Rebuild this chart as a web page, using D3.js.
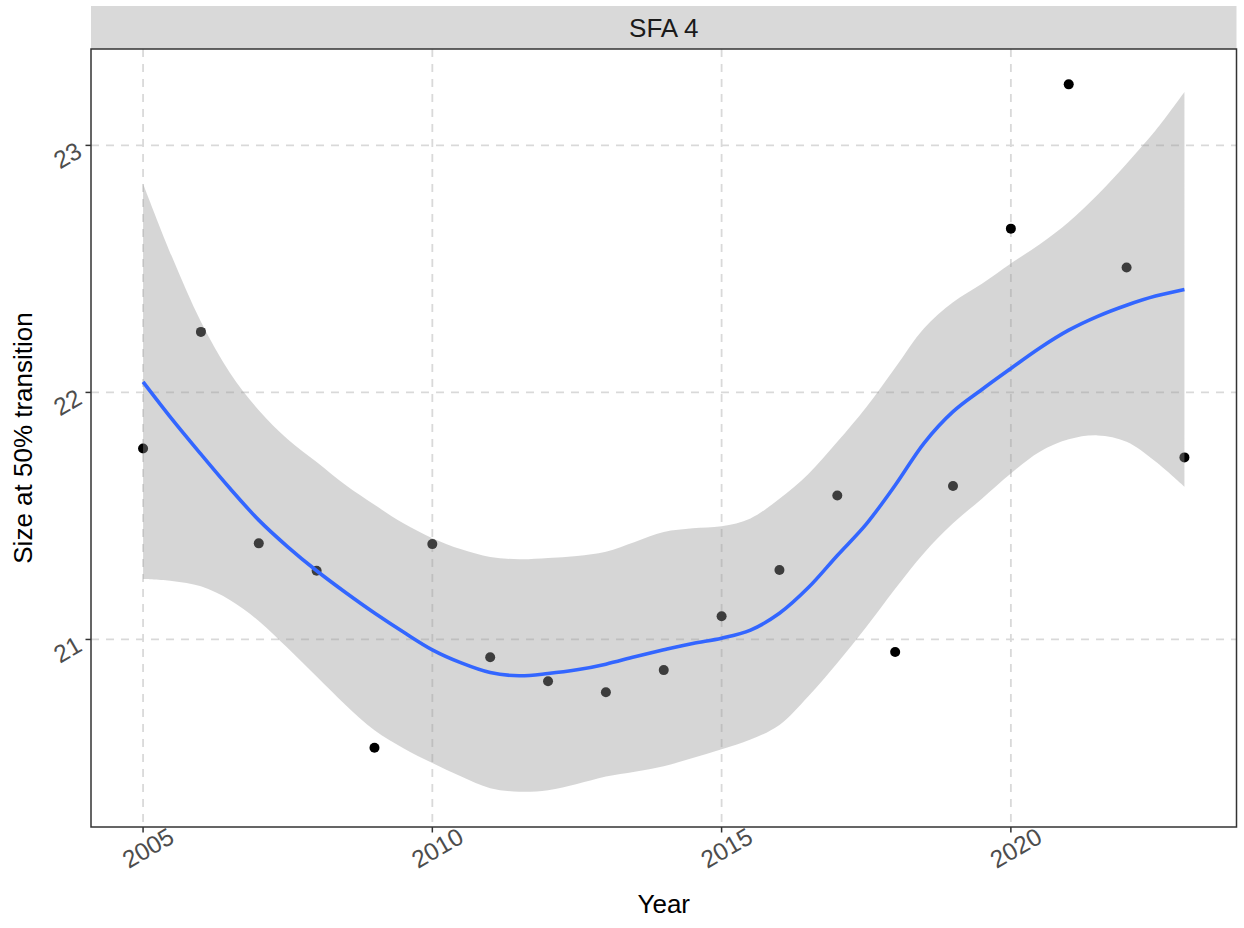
<!DOCTYPE html>
<html>
<head>
<meta charset="utf-8">
<script src="https://cdn.jsdelivr.net/npm/d3@7"></script>
<style>
  html, body { margin: 0; padding: 0; background: #ffffff; }
  svg { display: block; font-family: "Liberation Sans", Arial, Helvetica, sans-serif; }
</style>
</head>
<body>
<script>
// Size at 50% transition by year, SFA 4
const years = [2005, 2006, 2007, 2008, 2009, 2010, 2011, 2012, 2013, 2014,
               2015, 2016, 2017, 2018, 2019, 2020, 2021, 2022, 2023];
const sizes = [21.773, 22.245, 21.389, 21.278, 20.562, 21.386, 20.928, 20.831, 20.786, 20.876,
               21.094, 21.281, 21.583, 20.949, 21.621, 22.663, 23.247, 22.506, 21.737];

// loess smooth with 95% confidence band, on a half-year grid
const smoothYears = [2005, 2005.5, 2006, 2006.5, 2007, 2007.5, 2008, 2008.5, 2009, 2009.5,
                     2010, 2010.5, 2011, 2011.5, 2012, 2012.5, 2013, 2013.5, 2014, 2014.5,
                     2015, 2015.5, 2016, 2016.5, 2017, 2017.5, 2018, 2018.5, 2019, 2019.5,
                     2020, 2020.5, 2021, 2021.5, 2022, 2022.5, 2023];
const smoothFit = [22.043, 21.892, 21.75, 21.612, 21.483, 21.375, 21.278, 21.19, 21.107, 21.03,
                   20.958, 20.905, 20.866, 20.853, 20.862, 20.877, 20.9, 20.93, 20.958, 20.984,
                   21.005, 21.038, 21.106, 21.21, 21.34, 21.467, 21.624, 21.795, 21.922, 22.012,
                   22.097, 22.18, 22.252, 22.308, 22.353, 22.39, 22.417];
const smoothLower = [21.245, 21.237, 21.215, 21.16, 21.075, 20.965, 20.85, 20.735, 20.632, 20.56,
                     20.50, 20.445, 20.398, 20.384, 20.39, 20.415, 20.445, 20.465, 20.487, 20.52,
                     20.556, 20.595, 20.654, 20.77, 20.905, 21.05, 21.205, 21.35, 21.47, 21.57,
                     21.672, 21.76, 21.81, 21.826, 21.80, 21.72, 21.618];
const smoothUpper = [22.845, 22.549, 22.286, 22.08, 21.928, 21.81, 21.718, 21.625, 21.545, 21.47,
                     21.41, 21.365, 21.334, 21.325, 21.33, 21.338, 21.355, 21.395, 21.435, 21.45,
                     21.458, 21.49, 21.57, 21.67, 21.80, 21.94, 22.10, 22.26, 22.365, 22.44,
                     22.522, 22.60, 22.69, 22.80, 22.926, 23.06, 23.216];

const xTicks = [2005, 2010, 2015, 2020];
const yTicks = [21, 22, 23];
const panelTitle = "SFA 4";
const xTitle = "Year";
const yTitle = "Size at 50% transition";

const W = 1244, H = 928;
const panel = { left: 91, right: 1236.5, top: 49, bottom: 827 };
const strip = { top: 6, bottom: 49 };

const svg = d3.select("body").append("svg")
  .attr("width", W).attr("height", H);

// ggplot-style 5% expansion of the data range on both axes
function expand(ext, mult) {
  const pad = (ext[1] - ext[0]) * mult;
  return [ext[0] - pad, ext[1] + pad];
}
const xExt = d3.extent(years.concat(smoothYears));
const yExt = [d3.min(sizes.concat(smoothLower)), d3.max(sizes.concat(smoothUpper))];

const x = d3.scaleLinear().domain(expand(xExt, 0.05)).range([panel.left, panel.right]);
const y = d3.scaleLinear().domain(expand(yExt, 0.05)).range([panel.bottom, panel.top]);

// strip
svg.append("rect")
  .attr("x", panel.left).attr("y", strip.top)
  .attr("width", panel.right - panel.left).attr("height", strip.bottom - strip.top)
  .attr("fill", "#d9d9d9");
svg.append("text")
  .attr("x", (panel.left + panel.right) / 2).attr("y", 37)
  .attr("text-anchor", "middle")
  .attr("font-size", 26).attr("fill", "#1a1a1a")
  .text(panelTitle);

// panel background
svg.append("rect")
  .attr("x", panel.left).attr("y", panel.top)
  .attr("width", panel.right - panel.left).attr("height", panel.bottom - panel.top)
  .attr("fill", "#ffffff");

// dashed major grid
const grid = svg.append("g")
  .attr("stroke", "#d9d9d9").attr("stroke-width", 1.8)
  .attr("stroke-dasharray", "8,7").attr("fill", "none");
grid.selectAll("line.v").data(xTicks).enter().append("line")
  .attr("x1", d => x(d)).attr("x2", d => x(d))
  .attr("y1", panel.top).attr("y2", panel.bottom);
grid.selectAll("line.h").data(yTicks).enter().append("line")
  .attr("x1", panel.left).attr("x2", panel.right)
  .attr("y1", d => y(d)).attr("y2", d => y(d));

// points
svg.append("g").selectAll("circle")
  .data(years.map((yr, i) => ({ yr, v: sizes[i] })))
  .enter().append("circle")
  .attr("cx", d => x(d.yr)).attr("cy", d => y(d.v))
  .attr("r", 5).attr("fill", "#000000");

// smooth data table
const smooth = smoothYears.map((yr, i) => ({
  yr, fit: smoothFit[i], lo: smoothLower[i], hi: smoothUpper[i]
}));

// confidence band
svg.append("path")
  .datum(smooth)
  .attr("d", d3.area()
    .x(d => x(d.yr)).y0(d => y(d.lo)).y1(d => y(d.hi))
    .curve(d3.curveCatmullRom.alpha(0.5)))
  .attr("fill", "#999999").attr("fill-opacity", 0.4);

// fitted line
svg.append("path")
  .datum(smooth)
  .attr("d", d3.line().x(d => x(d.yr)).y(d => y(d.fit)).curve(d3.curveCatmullRom.alpha(0.5)))
  .attr("fill", "none").attr("stroke", "#3366FF").attr("stroke-width", 3.6)
  .attr("stroke-linejoin", "round");

// panel border
svg.append("rect")
  .attr("x", panel.left).attr("y", panel.top)
  .attr("width", panel.right - panel.left).attr("height", panel.bottom - panel.top)
  .attr("fill", "none").attr("stroke", "#333333").attr("stroke-width", 1.5);

// x axis ticks and labels
const xa = svg.append("g");
xa.selectAll("line").data(xTicks).enter().append("line")
  .attr("x1", d => x(d)).attr("x2", d => x(d))
  .attr("y1", panel.bottom).attr("y2", panel.bottom + 5.5)
  .attr("stroke", "#333333").attr("stroke-width", 1.5);
xa.selectAll("text").data(xTicks).enter().append("text")
  .attr("transform", d => `translate(${x(d) + 5},${848}) rotate(-30)`)
  .attr("text-anchor", "middle").attr("dominant-baseline", "central")
  .attr("font-size", 24.5).attr("fill", "#4d4d4d")
  .text(d => d);

// y axis ticks and labels
const ya = svg.append("g");
ya.selectAll("line").data(yTicks).enter().append("line")
  .attr("x1", panel.left - 5.5).attr("x2", panel.left)
  .attr("y1", d => y(d)).attr("y2", d => y(d))
  .attr("stroke", "#333333").attr("stroke-width", 1.5);
ya.selectAll("text").data(yTicks).enter().append("text")
  .attr("transform", d => `translate(${67.5},${y(d) + 10}) rotate(-30)`)
  .attr("text-anchor", "middle").attr("dominant-baseline", "central")
  .attr("font-size", 24.5).attr("fill", "#4d4d4d")
  .text(d => d);

// axis titles
svg.append("text")
  .attr("x", (panel.left + panel.right) / 2).attr("y", 913)
  .attr("text-anchor", "middle").attr("font-size", 26).attr("fill", "#000000")
  .text(xTitle);
svg.append("text")
  .attr("transform", `translate(32,${(panel.top + panel.bottom) / 2}) rotate(-90)`)
  .attr("text-anchor", "middle").attr("font-size", 26).attr("fill", "#000000")
  .text(yTitle);
</script>
</body>
</html>
